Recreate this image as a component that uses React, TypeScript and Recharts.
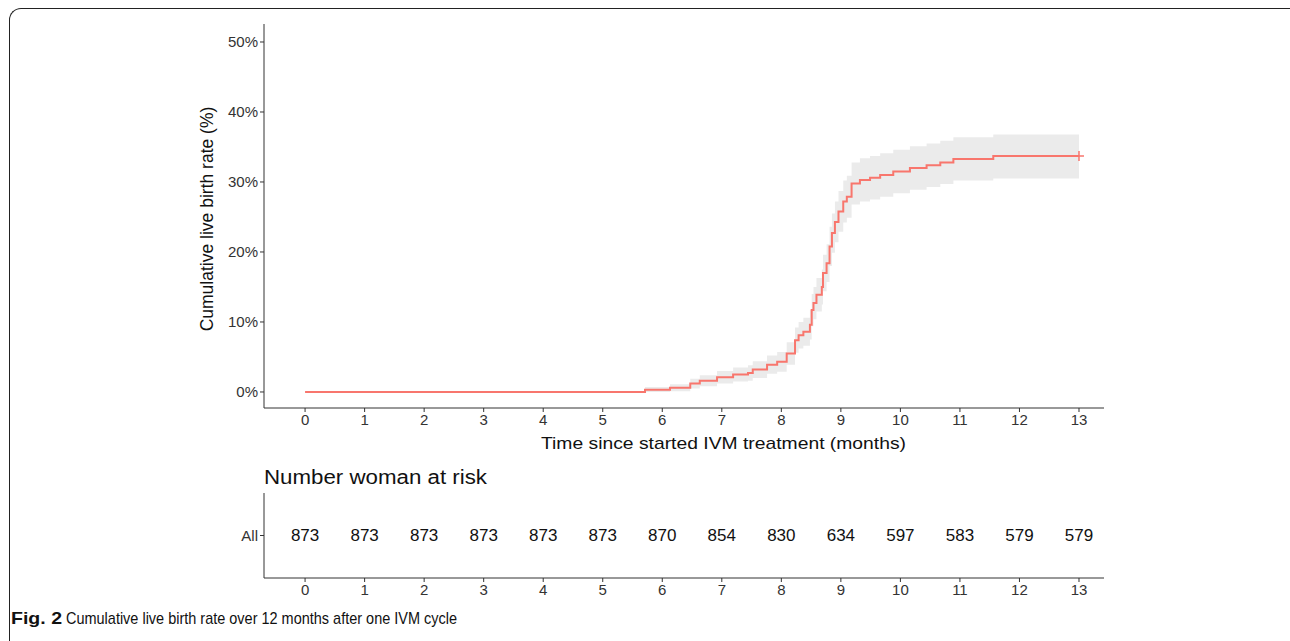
import React from 'react';
import {
  ComposedChart,
  ScatterChart,
  Scatter,
  Area,
  Line,
  XAxis,
  YAxis
} from 'recharts';

// Kaplan-Meier style cumulative live birth rate (%)
const months = [0, 5.71, 6.13, 6.47, 6.63, 6.92, 7.19, 7.44, 7.52, 7.76, 7.93, 8.09, 8.23, 8.29, 8.37, 8.48, 8.51, 8.54, 8.59, 8.68, 8.7, 8.76, 8.81, 8.85, 8.9, 8.96, 9.04, 9.1, 9.18, 9.32, 9.49, 9.66, 9.88, 10.16, 10.44, 10.67, 10.89, 11.56, 13];
const rate = [0, 0.3, 0.6, 1.2, 1.6, 2.1, 2.5, 2.7, 3.2, 3.9, 4.3, 5.5, 7.4, 8.1, 8.6, 9.6, 11.7, 12.7, 13.9, 15.0, 17.0, 18.4, 20.8, 22.7, 24.3, 25.8, 27.2, 27.9, 29.8, 30.3, 30.6, 31.0, 31.5, 32.0, 32.4, 32.8, 33.3, 33.7, 33.7];
const lower = [0, 0, 0.1, 0.5, 0.8, 1.2, 1.5, 1.6, 2.0, 2.6, 2.9, 3.9, 5.6, 6.2, 6.6, 7.5, 9.4, 10.4, 11.5, 12.5, 14.4, 15.7, 18.0, 19.9, 21.4, 22.9, 24.2, 24.9, 26.8, 27.2, 27.5, 27.9, 28.4, 28.9, 29.3, 29.7, 30.2, 30.5, 30.5];
const upper = [0, 0.7, 1.1, 1.9, 2.4, 3.0, 3.5, 3.8, 4.4, 5.2, 5.7, 7.1, 9.2, 10.0, 10.6, 11.7, 14.0, 15.0, 16.3, 17.5, 19.6, 21.1, 23.6, 25.5, 27.2, 28.7, 30.2, 30.9, 32.8, 33.4, 33.7, 34.1, 34.6, 35.1, 35.5, 35.9, 36.4, 36.8, 36.8];

// risk table
const riskTimes = [0, 1, 2, 3, 4, 5, 6, 7, 8, 9, 10, 11, 12, 13];
const atRisk = [873, 873, 873, 873, 873, 873, 870, 854, 830, 634, 597, 583, 579, 579];

const yTicks = [0, 10, 20, 30, 40, 50];

const curve = months.map((t, i) => ({ t, rate: rate[i], ci: [lower[i], upper[i]] }));
const riskRows = riskTimes.map((t, i) => ({ t, group: 'All', n: atRisk[i] }));

const font = '"Liberation Sans", Arial, sans-serif';
const narrow = '"Liberation Sans Narrow", "Liberation Sans", Arial, sans-serif';
const red = '#F8766D';
const axisColor = '#333333';
const last = curve.length - 1;

const CensorMark = (p: any) => {
  if (p.index !== last) return <g key={p.index} />;
  return (
    <path
      key={p.index}
      d={`M${p.cx - 5},${p.cy}h10M${p.cx},${p.cy - 5}v10`}
      stroke={red}
      strokeWidth={1.5}
    />
  );
};

const RiskNumber = (p: any) => (
  <text x={p.cx} y={p.cy} dy="0.35em" textAnchor="middle" fontSize={17} fontFamily={font} fill="#111">
    {p.payload.n}
  </text>
);

export default function App() {
  const tickStyle = { fill: axisColor, fontSize: 15, fontFamily: font };
  return (
    <div style={{ position: 'absolute', left: 0, top: 0, width: 1290, height: 641, background: '#fff' }}>
      {/* frame */}
      <div
        style={{
          position: 'absolute',
          left: 9,
          top: 8,
          width: 1300,
          height: 660,
          borderTop: '1.5px solid #222',
          borderLeft: '1.5px solid #222',
          borderTopLeftRadius: 12
        }}
      />

      <div style={{ position: 'absolute', left: 0, top: 0 }}>
        <ComposedChart width={1290} height={470} data={curve} margin={{ top: 24, right: 186, left: 0, bottom: 0 }}>
          <XAxis
            type="number"
            dataKey="t"
            domain={[-0.69, 13.42]}
            ticks={riskTimes}
            interval={0}
            allowDataOverflow
            height={62}
            tick={tickStyle}
            tickSize={4}
            tickLine={{ stroke: axisColor }}
            axisLine={{ stroke: axisColor }}
          />
          <YAxis
            type="number"
            domain={[-2.29, 52.57]}
            ticks={yTicks}
            interval={0}
            allowDataOverflow
            width={264}
            tickFormatter={(v: number) => `${v}%`}
            tick={tickStyle}
            tickSize={4}
            tickLine={{ stroke: axisColor }}
            axisLine={{ stroke: axisColor }}
          />
          <Area
            type="stepAfter"
            dataKey="ci"
            stroke="none"
            fill="#EBEBEB"
            fillOpacity={1}
            isAnimationActive={false}
          />
          <Line
            type="stepAfter"
            dataKey="rate"
            stroke={red}
            strokeWidth={2}
            dot={CensorMark}
            activeDot={false}
            isAnimationActive={false}
          />
        </ComposedChart>
      </div>

      <div style={{ position: 'absolute', left: 0, top: 470 }}>
        <ScatterChart width={1290} height={140} margin={{ top: 23, right: 186, left: 0, bottom: 0 }}>
          <XAxis
            type="number"
            dataKey="t"
            domain={[-0.69, 13.42]}
            ticks={riskTimes}
            interval={0}
            allowDataOverflow
            height={32}
            tick={tickStyle}
            tickSize={4}
            tickLine={{ stroke: axisColor }}
            axisLine={{ stroke: axisColor }}
          />
          <YAxis
            type="category"
            dataKey="group"
            allowDuplicatedCategory={false}
            width={264}
            tick={tickStyle}
            tickSize={4}
            tickLine={{ stroke: axisColor }}
            axisLine={{ stroke: axisColor }}
          />
          <Scatter data={riskRows} shape={RiskNumber} isAnimationActive={false} />
        </ScatterChart>
      </div>

      {/* titles */}
      <svg width={1290} height={641} style={{ position: 'absolute', left: 0, top: 0, pointerEvents: 'none' }}>
        <text x={541} y={449} textLength={365} lengthAdjust="spacingAndGlyphs" fontSize={17} fontFamily={font} fill="#111">
          Time since started IVM treatment (months)
        </text>
        <text
          x={0}
          y={0}
          transform="translate(213,219) rotate(-90)"
          textAnchor="middle"
          fontSize={17.5}
          fontFamily={font}
          fill="#111"
        >
          Cumulative live birth rate (%)
        </text>
        <text x={264} y={484} textLength={223} lengthAdjust="spacingAndGlyphs" fontSize={20} fontFamily={font} fill="#111">
          Number woman at risk
        </text>
        <text x={11} y={624} textLength={51} lengthAdjust="spacingAndGlyphs" fontSize={17} fontWeight="bold" fontFamily={narrow} fill="#111">
          Fig. 2
        </text>
        <text x={66} y={624} textLength={391} lengthAdjust="spacingAndGlyphs" fontSize={17} fontFamily={narrow} fill="#111">
          Cumulative live birth rate over 12 months after one IVM cycle
        </text>
      </svg>
    </div>
  );
}
